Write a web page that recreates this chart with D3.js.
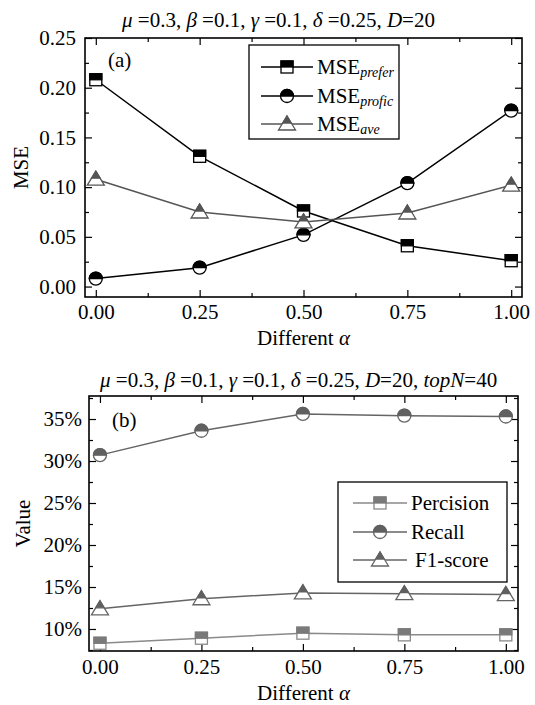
<!DOCTYPE html>
<html>
<head>
<meta charset="utf-8">
<script src="https://cdn.jsdelivr.net/npm/d3@7"></script>
<style>
  body { margin: 0; background: #fff; }
  text { font-family: "Liberation Serif", "Times New Roman", serif; }
</style>
</head>
<body>
<div id="chart"></div>
<script>
// data
var alphas = [0, 0.25, 0.5, 0.75, 1];
var xTicks = [0, 0.25, 0.5, 0.75, 1];

var msePrefer = [0.208, 0.131, 0.076, 0.041, 0.026];
var mseProfic = [0.008, 0.019, 0.052, 0.104, 0.177];
var mseAve = [0.108, 0.075, 0.065, 0.074, 0.102];
var mseTicks = [0, 0.05, 0.10, 0.15, 0.20, 0.25];

var precision = [8.3, 8.9, 9.5, 9.3, 9.3];
var recall = [30.7, 33.6, 35.6, 35.4, 35.3];
var f1score = [12.4, 13.6, 14.3, 14.2, 14.1];
var pctTicks = [10, 15, 20, 25, 30, 35];

var fs = "21px";

var svg = d3.select("#chart").append("svg")
    .attr("width", 535)
    .attr("height", 705);

// half filled markers: white body with outline, top half filled
function drawMarker(g, shape, color, lineColor) {
    if (shape === "square") {
        var s = 12;
        g.append("rect").attr("x", -s / 2).attr("y", -s / 2).attr("width", s).attr("height", s)
            .attr("fill", "#fff").attr("stroke", lineColor).attr("stroke-width", 1.3);
        g.append("rect").attr("x", -s / 2).attr("y", -s / 2).attr("width", s).attr("height", s / 2)
            .attr("fill", color).attr("stroke", color).attr("stroke-width", 1.3);
    } else if (shape === "circle") {
        var r = 6.5;
        g.append("circle").attr("r", r)
            .attr("fill", "#fff").attr("stroke", lineColor).attr("stroke-width", 1.3);
        g.append("path").attr("d", `M${-r},0 A${r},${r} 0 0 1 ${r},0 Z`)
            .attr("fill", color).attr("stroke", color).attr("stroke-width", 1.3);
    } else {
        var w = 8.5, h = 14;
        g.append("path").attr("d", `M0,${-h / 2 - 1} L${w},${h / 2 - 1} L${-w},${h / 2 - 1} Z`)
            .attr("fill", "#fff").attr("stroke", lineColor).attr("stroke-width", 1.3);
        g.append("path").attr("d", `M0,${-h / 2 - 1} L${w / 2},-1 L${-w / 2},-1 Z`)
            .attr("fill", color).attr("stroke", color).attr("stroke-width", 1.3);
    }
}

function drawPanel(opt) {
    var x = d3.scaleLinear().domain(opt.xDomain).range([opt.left, opt.right]);
    var y = d3.scaleLinear().domain(opt.yDomain).range([opt.bottom, opt.top]);
    var g = svg.append("g");

    // major ticks with labels
    g.append("g")
        .attr("transform", `translate(0, ${opt.bottom})`)
        .call(d3.axisBottom(x).tickValues(xTicks).tickSize(-7).tickPadding(opt.xPad)
            .tickFormat(d3.format(".2f")));
    g.append("g")
        .attr("transform", `translate(${opt.left}, 0)`)
        .call(d3.axisLeft(y).tickValues(opt.yTicks).tickSize(-7).tickPadding(opt.yPad)
            .tickFormat(opt.yFormat));

    // minor ticks
    var xMinor = xTicks.slice(0, -1).map(d => d + 0.125);
    var yMinor = opt.yTicks.map(d => d + opt.yStep / 2).filter(d => d < opt.yDomain[1]);
    if (opt.yDomain[0] < opt.yTicks[0] - opt.yStep / 2) yMinor.push(opt.yTicks[0] - opt.yStep / 2);
    g.append("g")
        .attr("transform", `translate(0, ${opt.bottom})`)
        .call(d3.axisBottom(x).tickValues(xMinor).tickSize(-4).tickFormat(""));
    g.append("g")
        .attr("transform", `translate(${opt.left}, 0)`)
        .call(d3.axisLeft(y).tickValues(yMinor).tickSize(-4).tickFormat(""));

    // mirrored ticks on top and right
    g.append("g")
        .attr("transform", `translate(0, ${opt.top})`)
        .call(d3.axisTop(x).tickValues(xTicks).tickSize(-7).tickFormat(""));
    g.append("g")
        .attr("transform", `translate(0, ${opt.top})`)
        .call(d3.axisTop(x).tickValues(xMinor).tickSize(-4).tickFormat(""));
    g.append("g")
        .attr("transform", `translate(${opt.right}, 0)`)
        .call(d3.axisRight(y).tickValues(opt.yTicks).tickSize(-7).tickFormat(""));
    g.append("g")
        .attr("transform", `translate(${opt.right}, 0)`)
        .call(d3.axisRight(y).tickValues(yMinor).tickSize(-4).tickFormat(""));

    g.selectAll(".domain").remove();
    g.selectAll(".tick line").attr("stroke", "#000").attr("stroke-width", 1.2);
    g.selectAll(".tick text").attr("fill", "#000").style("font-size", fs)
        .style("font-family", "'Liberation Serif', serif");

    // frame
    g.append("rect")
        .attr("x", opt.left).attr("y", opt.top)
        .attr("width", opt.right - opt.left).attr("height", opt.bottom - opt.top)
        .attr("fill", "none").attr("stroke", "#000").attr("stroke-width", 1.6);

    // series
    var line = d3.line().x((d, i) => x(alphas[i])).y(d => y(d));
    opt.series.forEach(function(s) {
        g.append("path")
            .datum(s.values)
            .attr("d", line)
            .attr("fill", "none")
            .attr("stroke", s.line)
            .attr("stroke-width", 1.5);
    });
    opt.series.forEach(function(s) {
        s.values.forEach(function(v, i) {
            var m = g.append("g").attr("transform", `translate(${x(alphas[i])}, ${y(v)})`);
            drawMarker(m, s.shape, s.fill, s.line);
        });
    });

    // legend
    var lg = g.append("g");
    lg.append("rect")
        .attr("x", opt.legend.x).attr("y", opt.legend.y)
        .attr("width", opt.legend.w).attr("height", opt.legend.h)
        .attr("fill", "#fff").attr("stroke", "#000").attr("stroke-width", 1.3);
    opt.series.forEach(function(s, i) {
        var ly = opt.legend.rows[i];
        var lx = opt.legend.x + opt.legend.lineX;
        lg.append("line")
            .attr("x1", lx).attr("x2", lx + opt.legend.lineW)
            .attr("y1", ly).attr("y2", ly)
            .attr("stroke", s.line).attr("stroke-width", 1.5);
        drawMarker(lg.append("g").attr("transform", `translate(${lx + opt.legend.lineW / 2}, ${ly})`),
            s.shape, s.fill, s.line);
        var t = lg.append("text")
            .attr("x", lx + opt.legend.lineW + 4 + (s.dx || 0))
            .attr("y", ly + 7)
            .style("font-size", fs);
        t.append("tspan").text(s.name);
        if (s.sub) {
            t.append("tspan").attr("dy", 3).style("font-size", "14px")
                .style("font-style", "italic").text(s.sub);
        }
    });

    // panel letter
    svg.append("text").attr("x", opt.letter[0]).attr("y", opt.letter[1])
        .style("font-size", fs).text(opt.letterText);

    // axis titles
    var xl = svg.append("text")
        .attr("x", (opt.left + opt.right) / 2).attr("y", opt.xLabelY)
        .attr("text-anchor", "middle").style("font-size", fs);
    xl.append("tspan").text("Different ");
    xl.append("tspan").style("font-style", "italic").text("\u03b1");

    svg.append("text")
        .attr("transform", `translate(${opt.yLabelX}, ${(opt.top + opt.bottom) / 2}) rotate(-90)`)
        .attr("text-anchor", "middle").style("font-size", fs)
        .text(opt.yLabel);

    // title with italic symbols
    var tt = svg.append("text").attr("x", opt.titleX).attr("y", opt.titleY)
        .style("font-size", fs);
    opt.title.forEach(function(p) {
        tt.append("tspan").style("font-style", p[1] ? "italic" : "normal").text(p[0]);
    });
}

var baseTitle = [["\u03bc", 1], [" =0.3, ", 0], ["\u03b2", 1], [" =0.1, ", 0], ["\u03b3", 1], [" =0.1, ", 0],
    ["\u03b4", 1], [" =0.25, ", 0], ["D", 1], ["=20", 0]];

// panel (a)
drawPanel({
    left: 85, right: 522, top: 38, bottom: 297,
    xDomain: [-0.026, 1.026], yDomain: [-0.0105, 0.25],
    yTicks: mseTicks, yStep: 0.05, yFormat: d3.format(".2f"),
    xPad: 7, yPad: 9,
    series: [
        { name: "MSE", sub: "prefer", values: msePrefer, shape: "square", fill: "#000", line: "#000" },
        { name: "MSE", sub: "profic", values: mseProfic, shape: "circle", fill: "#000", line: "#000" },
        { name: "MSE", sub: "ave", values: mseAve, shape: "triangle", fill: "#555", line: "#555" }
    ],
    legend: { x: 249, y: 45, w: 150, h: 94, rows: [67, 96, 124], lineX: 12, lineW: 52 },
    letter: [108, 67], letterText: "(a)",
    xLabelY: 345, yLabelX: 28, yLabel: "MSE",
    title: baseTitle, titleX: 122, titleY: 27
});

// panel (b)
drawPanel({
    left: 89, right: 518, top: 396, bottom: 651,
    xDomain: [-0.027, 1.03], yDomain: [7.38, 37.74],
    yTicks: pctTicks, yStep: 5, yFormat: d => d + "%",
    xPad: 8, yPad: 7,
    series: [
        { name: "Percision", values: precision, shape: "square", fill: "#7a7a7a", line: "#8a8a8a" },
        { name: "Recall", values: recall, shape: "circle", fill: "#606060", line: "#656565" },
        { name: "F1-score", values: f1score, shape: "triangle", fill: "#606060", line: "#656565", dx: 4 }
    ],
    legend: { x: 338, y: 482, w: 169, h: 100, rows: [503, 532, 560], lineX: 15, lineW: 54 },
    letter: [112, 427], letterText: "(b)",
    xLabelY: 700, yLabelX: 30, yLabel: "Value",
    title: baseTitle.concat([[", ", 0], ["topN", 1], ["=40", 0]]), titleX: 100, titleY: 387
});
</script>
</body>
</html>
